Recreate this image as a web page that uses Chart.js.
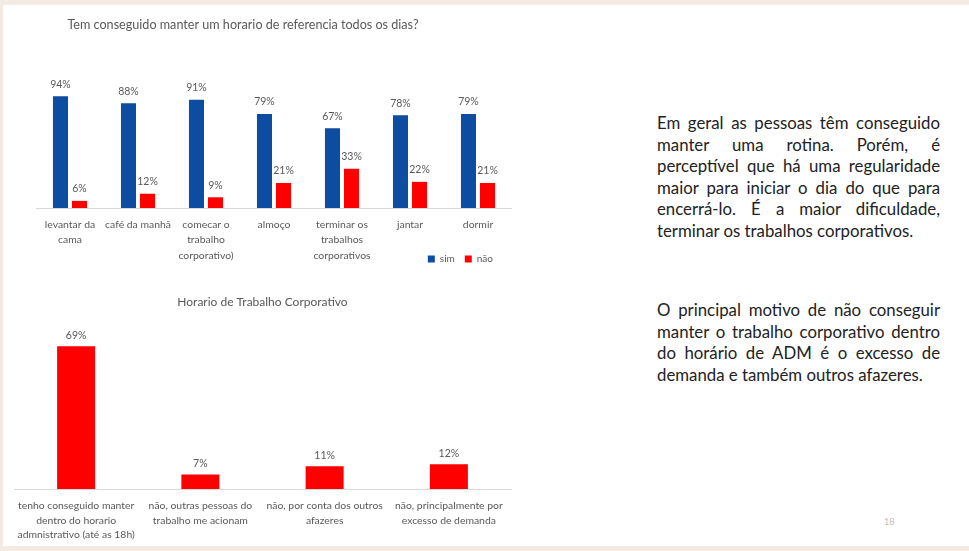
<!DOCTYPE html>
<html>
<head>
<meta charset="utf-8">
<script src="https://cdn.jsdelivr.net/npm/chart.js@4.4.1/dist/chart.umd.min.js"></script>
<style>
  html, body { margin:0; padding:0; }
  body { width:969px; height:551px; background:#f3eae3; position:relative; overflow:hidden; font-family: Lato, "Open Sans", sans-serif; }
  #slide { position:absolute; left:3px; top:5px; width:966px; height:541px; background:#ffffff; }
  canvas { position:absolute; }
  #c1 { left:-26px; top:0px; }
  #c2 { left:0px; top:280px; }
  .txt { position:absolute; left:657px; width:283px; font-family: Lato, "Open Sans", sans-serif; font-size:16.8px; line-height:21.6px; color:#222222; }
  .txt div { text-align:justify; text-align-last:justify; white-space:nowrap; }
  .txt div.last { text-align:left; text-align-last:left; }
  #p1 { top:112px; }
  #p2 { top:299px; }
  #pg { position:absolute; left:884px; top:516px; font-size:9px; color:#bfbfbf; font-family: Lato, sans-serif; }
</style>
</head>
<body>
<div id="slide"></div>
<canvas id="c1" width="538" height="293"></canvas>
<canvas id="c2" width="530" height="262"></canvas>
<div class="txt" id="p1">
  <div>Em geral as pessoas têm conseguido</div>
  <div>manter uma rotina. Porém, é</div>
  <div>perceptível que há uma regularidade</div>
  <div>maior para iniciar o dia do que para</div>
  <div>encerrá-lo. É a maior dificuldade,</div>
  <div class="last">terminar os trabalhos corporativos.</div>
</div>
<div class="txt" id="p2">
  <div>O principal motivo de não conseguir</div>
  <div>manter o trabalho corporativo dentro</div>
  <div>do horário de ADM é o excesso de</div>
  <div class="last">demanda e também outros afazeres.</div>
</div>
<div id="pg">18</div>
<script>
const title1 = "Tem conseguido manter um horario de referencia todos os dias?";
const categories1 = [["levantar da","cama"], "café da manhã", ["comecar o","trabalho","corporativo)"], "almoço", ["terminar os","trabalhos","corporativos"], "jantar", "dormir"];
const simValues = [94, 88, 91, 79, 67, 78, 79];
const naoValues = [6, 12, 9, 21, 33, 22, 21];
const seriesNames = ["sim", "não"];

const title2 = "Horario de Trabalho Corporativo";
const categories2 = [["tenho conseguido manter","dentro do horario","admnistrativo (até as 18h)"], ["não, outras pessoas do","trabalho me acionam"], ["não, por conta dos outros","afazeres"], ["não, principalmente por","excesso de demanda"]];
const values2 = [69, 7, 11, 12];

const GRAY = '#595959';
const BLUE = '#0c4da2';
const RED = '#ff0000';
const FONT = 'Lato, "Open Sans", sans-serif';

const valueLabels = {
  id: 'valueLabels',
  afterDatasetsDraw(chart, args, opts) {
    const ctx = chart.ctx;
    ctx.save();
    ctx.font = '10.5px ' + FONT;
    ctx.fillStyle = GRAY;
    ctx.textAlign = 'center';
    ctx.textBaseline = 'middle';
    chart.data.datasets.forEach((ds, i) => {
      const meta = chart.getDatasetMeta(i);
      meta.data.forEach((el, j) => {
        ctx.fillText(ds.data[j] + '%', el.x, el.y - (opts.offset || 11));
      });
    });
    ctx.restore();
  }
};

// nudges the legend so it sits beside the last line of the axis labels
const legendShift = {
  id: 'legendShift',
  afterLayout(chart, args, opts) {
    const lg = chart.legend;
    if (!lg) return;
    lg.top += opts.dy; lg.bottom += opts.dy;
    lg.left += opts.dx; lg.right += opts.dx;
  }
};

new Chart(document.getElementById('c1'), {
  type: 'bar',
  data: {
    labels: categories1,
    datasets: [
      { label: seriesNames[0], data: simValues, backgroundColor: BLUE, categoryPercentage: 0.56, barPercentage: 0.79 },
      { label: seriesNames[1], data: naoValues, backgroundColor: RED, categoryPercentage: 0.56, barPercentage: 0.79 }
    ]
  },
  options: {
    responsive: false,
    animation: false,
    layout: { padding: { left: 0, right: 0, top: 0, bottom: 0 } },
    plugins: {
      title: { display: true, text: title1, color: GRAY, font: { family: FONT, size: 12.6, weight: 'normal' }, padding: { top: 17.5, bottom: 56.4 } },
      legend: { display: true, position: 'bottom', align: 'end', labels: { color: GRAY, boxWidth: 7, boxHeight: 7, padding: 10, font: { family: FONT, size: 10 } } },
      tooltip: { enabled: false },
      valueLabels: { offset: 12 },
      legendShift: { dx: -9, dy: -19 }
    },
    scales: {
      x: {
        grid: { display: false, drawTicks: false },
        border: { display: true, color: '#d9d9d9' },
        ticks: { color: GRAY, font: { family: FONT, size: 10.4, lineHeight: 1.45 }, padding: 9.5, maxRotation: 0, autoSkip: false },
        afterFit(scale) { scale.height = 55; }
      },
      y: {
        display: true, min: 0, max: 100,
        grid: { display: false }, border: { display: false },
        ticks: { display: false },
        afterFit(scale) { scale.width = 62; }
      }
    }
  },
  plugins: [valueLabels, legendShift]
});

new Chart(document.getElementById('c2'), {
  type: 'bar',
  data: {
    labels: categories2,
    datasets: [
      { label: 'Horario', data: values2, backgroundColor: RED, categoryPercentage: 0.306, barPercentage: 1 }
    ]
  },
  options: {
    responsive: false,
    animation: false,
    layout: { padding: { left: 14, right: 19, top: 0, bottom: 0 } },
    plugins: {
      title: { display: true, text: title2, color: GRAY, font: { family: FONT, size: 12, weight: 'normal' }, padding: { top: 14.8, bottom: 14.2 } },
      legend: { display: false },
      tooltip: { enabled: false },
      valueLabels: { offset: 11 }
    },
    scales: {
      x: {
        grid: { display: false, drawTicks: false },
        border: { display: true, color: '#d9d9d9' },
        ticks: { color: GRAY, font: { family: FONT, size: 10.4, lineHeight: 1.4 }, padding: 9.75, maxRotation: 0, autoSkip: false },
        afterFit(scale) { scale.height = 53; }
      },
      y: { display: false, min: 0, max: 80 }
    }
  },
  plugins: [valueLabels]
});
</script>
</body>
</html>
